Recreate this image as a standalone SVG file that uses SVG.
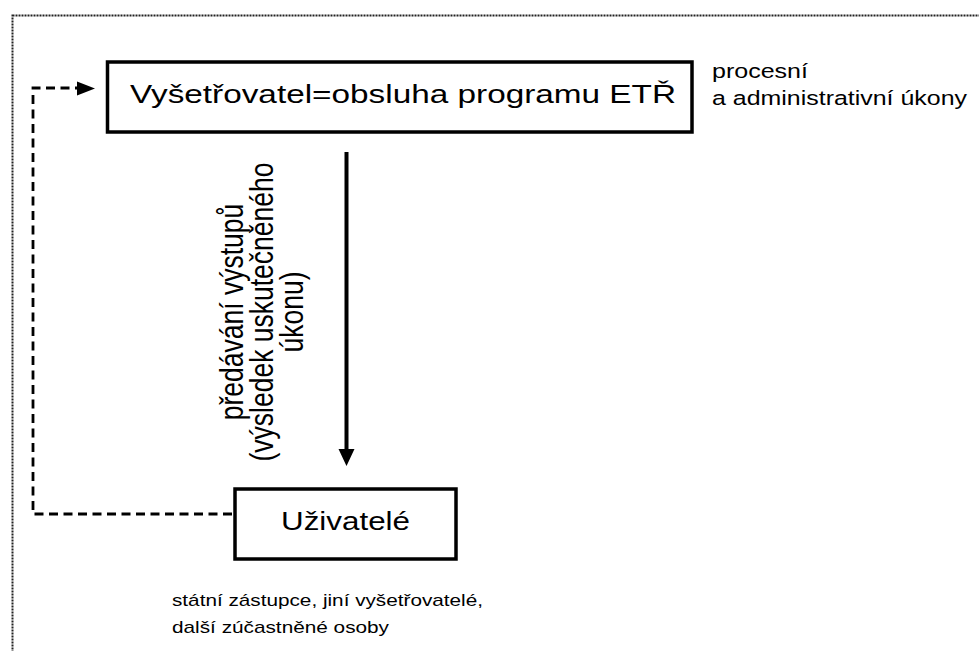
<svg xmlns="http://www.w3.org/2000/svg" width="979" height="651" viewBox="0 0 979 651">
<defs>
<style>
text{font-family:"Liberation Sans",Arial,sans-serif;fill:#000}
.big{font-size:26.5px}
.small{font-size:20.5px}
.note{font-size:17px}
.box{fill:#fff;stroke:#000;stroke-width:3.5}
.dash{fill:none;stroke:#000;stroke-width:2.8;stroke-dasharray:9 5.5}
</style>
</defs>
<rect x="12.5" y="15.5" width="1000" height="700" fill="none" stroke="#222" stroke-width="2" stroke-dasharray="2 1"/>
<g id="connectors">
<path class="dash" d="M232 514 H33 V88 H80"/>
<polygon points="77,81.5 95,88.5 77,95.5" fill="#000"/>
<line x1="346.5" y1="152" x2="346.5" y2="452" stroke="#000" stroke-width="4"/>
<polygon points="338.5,449 354.5,449 346.5,466" fill="#000"/>
<g id="edge-label">
<text class="big" text-anchor="middle" transform="translate(243,312) scale(1.22,1) rotate(-90)">předávání výstupů</text>
<text class="big" text-anchor="middle" transform="translate(273,312) scale(1.22,1) rotate(-90)">(výsledek uskutečněného</text>
<text class="big" text-anchor="middle" transform="translate(303,312) scale(1.22,1) rotate(-90)">úkonu)</text>
</g>
</g>
<g id="node-vysetrovatel">
<rect class="box" x="107.5" y="62" width="584.5" height="70"/>
<text class="big" x="130" y="103" textLength="546" lengthAdjust="spacingAndGlyphs">Vyšetřovatel=obsluha programu ETŘ</text>
</g>
<g id="label-ukony">
<text class="small" x="712" y="78" textLength="96" lengthAdjust="spacingAndGlyphs">procesní</text>
<text class="small" x="712" y="105" textLength="255" lengthAdjust="spacingAndGlyphs">a administrativní úkony</text>
</g>
<g id="node-uzivatele">
<rect class="box" x="235" y="489" width="221" height="70"/>
<text class="big" x="281" y="530" textLength="129" lengthAdjust="spacingAndGlyphs">Uživatelé</text>
</g>
<g id="label-uzivatele">
<text class="note" x="172" y="606" textLength="311" lengthAdjust="spacingAndGlyphs">státní zástupce, jiní vyšetřovatelé,</text>
<text class="note" x="172" y="633" textLength="217" lengthAdjust="spacingAndGlyphs">další zúčastněné osoby</text>
</g>
</svg>
